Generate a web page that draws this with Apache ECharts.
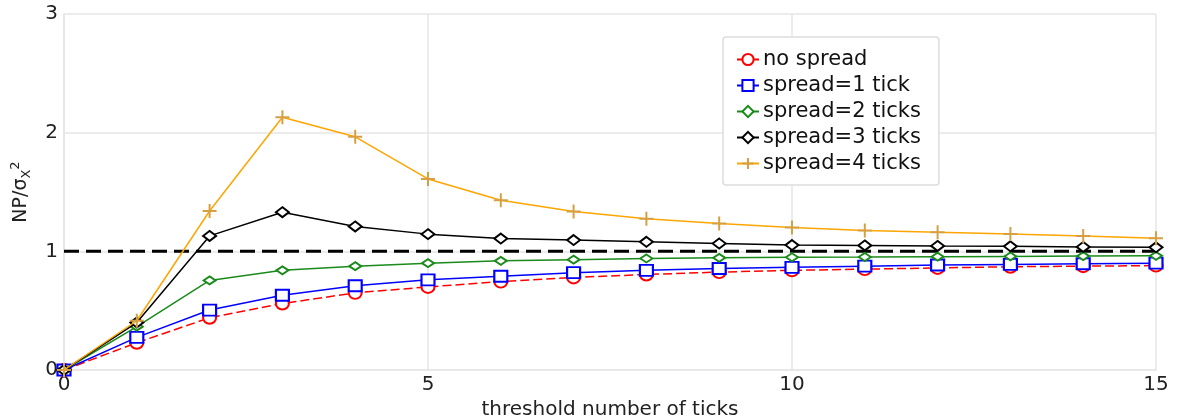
<!DOCTYPE html>
<html>
<head>
<meta charset="utf-8">
<script src="https://cdn.jsdelivr.net/npm/echarts@6/dist/echarts.min.js"></script>
<style>
html,body{margin:0;padding:0;background:#fff;}
#c{width:1177px;height:419px;}
</style>
</head>
<body>
<div id="c"></div>
<script>
const xValues = [0,1,2,3,4,5,6,7,8,9,10,11,12,13,14,15];
const noSpread = [0,0.23,0.44,0.56,0.65,0.70,0.745,0.78,0.805,0.825,0.84,0.85,0.86,0.87,0.875,0.88];
const spread1 = [0,0.275,0.505,0.63,0.71,0.76,0.79,0.82,0.84,0.855,0.865,0.875,0.885,0.89,0.895,0.90];
const spread2 = [0,0.365,0.755,0.84,0.875,0.90,0.92,0.93,0.94,0.945,0.95,0.952,0.955,0.957,0.96,0.962];
const spread3 = [0,0.40,1.13,1.33,1.21,1.145,1.108,1.095,1.08,1.066,1.053,1.05,1.045,1.042,1.037,1.034];
const spread4 = [0,0.415,1.34,2.13,1.965,1.61,1.43,1.335,1.275,1.235,1.20,1.175,1.16,1.146,1.13,1.11];
const refX = [0,15];
const refY = [1,1];
const seriesNames = ['no spread','spread=1 tick','spread=2 ticks','spread=3 ticks','spread=4 ticks'];
const xTicks = [0,5,10,15];
const yTicks = [0,1,2,3];

const pair = (xs, ys) => xs.map((x,i)=>[x, ys[i]]);
const FONT = 'DejaVu Sans';
const grid = '#e6e6e6';

const chart = echarts.init(document.getElementById('c'), null, {renderer:'canvas'});
chart.setOption({
  animation:false,
  backgroundColor:'#fff',
  grid:{left:64,right:21,top:14,bottom:49,outerBoundsMode:'none',containLabel:false},
  xAxis:{
    type:'value', min:xTicks[0], max:xTicks[xTicks.length-1], interval:5,
    name:'threshold number of ticks', nameLocation:'middle', nameGap:29,
    nameTextStyle:{fontFamily:FONT,fontSize:20,color:'#222'},
    axisLine:{show:true,lineStyle:{color:grid,width:1.5}},
    axisTick:{show:false},
    axisLabel:{fontFamily:FONT,fontSize:20,color:'#222',margin:5},
    splitLine:{show:true,lineStyle:{color:grid,width:1.5}}
  },
  yAxis:{
    type:'value', min:yTicks[0], max:yTicks[yTicks.length-1], interval:1,
    name:'{a|NP/σ}{sub|X}{sup|2}', nameLocation:'middle', nameGap:31, nameRotate:90,
    nameTextStyle:{
      fontFamily:FONT,fontSize:19,color:'#222',
      rich:{
        a:{fontFamily:FONT,fontSize:19,color:'#222',lineHeight:24,verticalAlign:'middle'},
        sub:{fontFamily:FONT,fontSize:13,color:'#222',lineHeight:24,verticalAlign:'bottom'},
        sup:{fontFamily:FONT,fontSize:13,color:'#222',lineHeight:24,verticalAlign:'top'}
      }
    },
    axisLine:{show:true,lineStyle:{color:grid,width:1.5}},
    axisTick:{show:false},
    axisLabel:{fontFamily:FONT,fontSize:20,color:'#222',margin:6},
    splitLine:{show:true,lineStyle:{color:grid,width:1.5}}
  },
  legend:{
    data:seriesNames,
    orient:'vertical', left:723, top:37,
    padding:[12,18,11,13],
    itemGap:5, itemWidth:22, itemHeight:14,
    backgroundColor:'#fff', borderColor:'#dddddd', borderWidth:1.5, borderRadius:3,
    textStyle:{fontFamily:FONT,fontSize:21,lineHeight:20,color:'#111',padding:[0,0,0,-1]}
  },
  series:[
    {name:'ref', type:'line', data:pair(refX,refY), symbol:'none', z:1, silent:true,
     lineStyle:{color:'#000',width:3,type:[15,7]}},
    {name:seriesNames[0], type:'line', data:pair(xValues,noSpread), z:2,
     symbol:'emptyCircle', symbolSize:[13,12],
     lineStyle:{color:'#ff0000',width:1.5,type:[9,4]},
     itemStyle:{color:'#ff0000',borderColor:'#ff0000',borderWidth:1.5}},
    {name:seriesNames[1], type:'line', data:pair(xValues,spread1), z:3,
     symbol:'emptyRect', symbolSize:[13,11],
     lineStyle:{color:'#0000ff',width:1.5},
     itemStyle:{color:'#0000ff',borderColor:'#0000ff',borderWidth:1.5}},
    {name:seriesNames[2], type:'line', data:pair(xValues,spread2), z:4,
     symbol:'emptyDiamond', symbolSize:[12,8],
     lineStyle:{color:'#1a8a1a',width:1.5},
     itemStyle:{color:'#1a8a1a',borderColor:'#1a8a1a',borderWidth:1.5}},
    {name:seriesNames[3], type:'line', data:pair(xValues,spread3), z:5,
     symbol:'emptyDiamond', symbolSize:[13,10],
     lineStyle:{color:'#000000',width:1.5},
     itemStyle:{color:'#000000',borderColor:'#000000',borderWidth:1.5}},
    {name:seriesNames[4], type:'line', data:pair(xValues,spread4), z:6,
     symbol:'path://M0,5L10,5M5,0L5,10', symbolSize:[14,14],
     lineStyle:{color:'#ffa500',width:1.5},
     itemStyle:{color:'#d6a042',borderColor:'#d6a042',borderWidth:2}}
  ]
});
</script>
</body>
</html>
